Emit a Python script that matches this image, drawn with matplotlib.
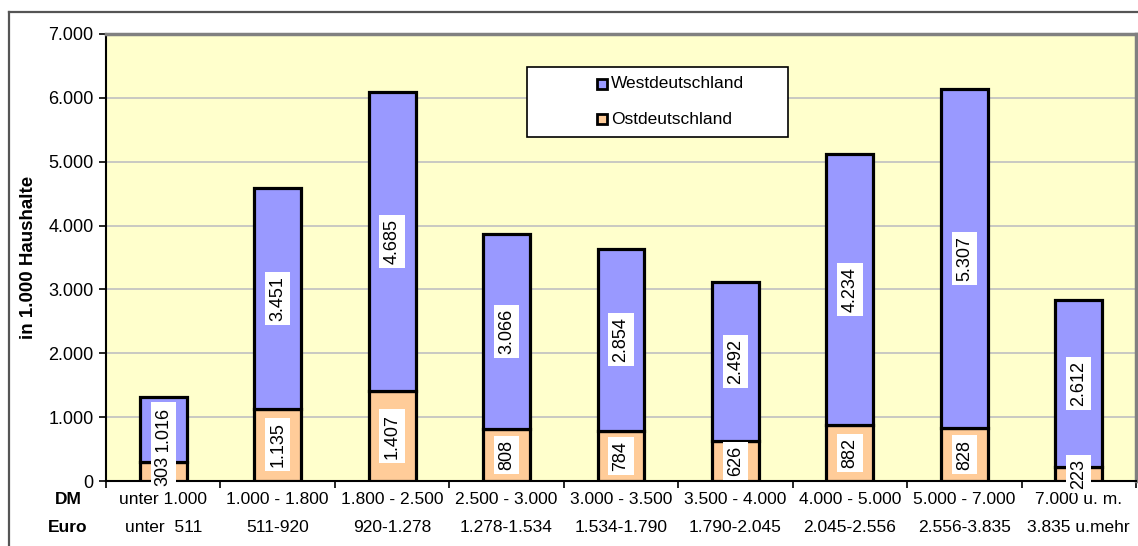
import numpy as np
import matplotlib
matplotlib.use('Agg')
from matplotlib import pyplot as plt
from matplotlib.patches import Rectangle
from matplotlib.lines import Line2D

plt.rcParams['font.family'] = ['Liberation Sans', 'DejaVu Sans']

dm_labels = ['unter 1.000', '1.000 - 1.800', '1.800 - 2.500', '2.500 - 3.000', '3.000 - 3.500',
             '3.500 - 4.000', '4.000 - 5.000', '5.000 - 7.000', '7.000 u. m.']
euro_labels = ['unter  511', '511-920', '920-1.278', '1.278-1.534', '1.534-1.790',
               '1.790-2.045', '2.045-2.556', '2.556-3.835', '3.835 u.mehr']
ost = [303, 1135, 1407, 808, 784, 626, 882, 828, 223]
west = [1016, 3451, 4685, 3066, 2854, 2492, 4234, 5307, 2612]

west_color = '#9999FF'
ost_color = '#FFCC99'
fs = 12.5


def de_fmt(v):
    return f'{v:,.0f}'.replace(',', '.')


fig = plt.figure(figsize=(11.38, 5.46), dpi=100)
ax = fig.add_axes([106 / 1138, 65 / 546, 1030 / 1138, 447 / 546])
ax.set_facecolor('#FFFFCC')

x = np.arange(len(ost))
ost = np.array(ost)
west = np.array(west)
bw = 0.41
ax.bar(x, ost, width=bw, color=ost_color, edgecolor='black', linewidth=2.3, zorder=3)
ax.bar(x, west, width=bw, bottom=ost, color=west_color, edgecolor='black', linewidth=2.3, zorder=3)

box = dict(facecolor='white', edgecolor='none', pad=3)
for xi, o, w in zip(x, ost, west):
    ax.text(xi, o / 2, de_fmt(o), rotation=90, ha='center', va='center',
            fontsize=13, bbox=box, zorder=5)
    ax.text(xi, o + w / 2, de_fmt(w), rotation=90, ha='center', va='center',
            fontsize=13, bbox=box, zorder=4)

ax.set_xlim(-0.5, len(ost) - 0.5)
ax.set_ylim(0, 7000)
ax.set_yticks(np.arange(0, 7001, 1000))
ax.set_yticklabels([de_fmt(v) for v in np.arange(0, 7001, 1000)], fontsize=13)
ax.yaxis.grid(True, color='#C0C0C0', linewidth=1.2, zorder=0)
ax.set_axisbelow(True)
ax.set_xticks(np.arange(len(ost) + 1) - 0.5)
ax.set_xticklabels([])
ax.tick_params(axis='both', direction='out', length=5, width=1.2, color='black')
ax.tick_params(axis='y', pad=4)
for side in ['left', 'bottom']:
    ax.spines[side].set_color('black')
    ax.spines[side].set_linewidth(1.5)
for side in ['top', 'right']:
    ax.spines[side].set_color('#808080')
    ax.spines[side].set_linewidth(2.5)

ax.set_ylabel('in 1.000 Haushalte', fontsize=13.5, fontweight='bold', labelpad=8)

# two-row category labels below the axis
trans = ax.get_xaxis_transform()
for xi, dm, eu in zip(x, dm_labels, euro_labels):
    ax.text(xi, -19 / 447, dm, transform=trans, ha='center', va='center', fontsize=fs)
    ax.text(xi, -46 / 447, eu, transform=trans, ha='center', va='center', fontsize=fs)
ax.text(-38 / 1030, -19 / 447, 'DM', transform=ax.transAxes, ha='center', va='center',
        fontsize=fs, fontweight='bold')
ax.text(-38 / 1030, -46 / 447, 'Euro', transform=ax.transAxes, ha='center', va='center',
        fontsize=fs, fontweight='bold')

# legend box
lx0, lx1 = (527 - 106) / 1030, (788 - 106) / 1030
ly0, ly1 = (481 - 137) / 447, (481 - 67) / 447
ax.add_patch(Rectangle((lx0, ly0), lx1 - lx0, ly1 - ly0, transform=ax.transAxes,
                       facecolor='white', edgecolor='black', linewidth=1.2, zorder=6))
for name, col, py in [('Westdeutschland', west_color, 84), ('Ostdeutschland', ost_color, 119)]:
    yy = (481 - py) / 447
    ax.plot([(602 - 106) / 1030], [yy], marker='s', markersize=7, markerfacecolor=col,
            markeredgecolor='black', markeredgewidth=2, transform=ax.transAxes, zorder=7,
            clip_on=False)
    ax.text((611 - 106) / 1030, yy, name, transform=ax.transAxes, ha='left', va='center',
            fontsize=12.5, zorder=7)

# outer chart frame
fig.add_artist(Line2D([9 / 1138, 9 / 1138], [0, 1 - 12 / 546], color='#555555', linewidth=1.6))
fig.add_artist(Line2D([9 / 1138, 1], [1 - 12 / 546, 1 - 12 / 546], color='#555555', linewidth=1.6))

fig.savefig('out.png', dpi=100)
